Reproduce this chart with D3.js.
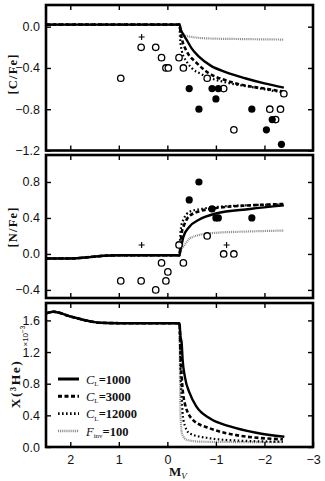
<!DOCTYPE html>
<html>
<head>
<meta charset="utf-8">
<script src="https://cdn.jsdelivr.net/npm/d3@7"></script>
<style>
  body { margin: 0; background: #fff; }
  svg { display: block; }
  .tick text { font-family: "Liberation Sans", Arial, sans-serif; font-size: 12.5px; fill: #111; }
  .serif { font-family: "Liberation Serif", "Times New Roman", serif; font-weight: bold; fill: #111; }
</style>
</head>
<body>
<svg id="chart"></svg>
<script>
// --------------------
// Data (M_V, value)
// --------------------
const xTicks = [2, 1, 0, -1, -2, -3];

// [C/Fe] model curves
const cfeSolid = [[2.5,0.02],[-0.25,0.02],[-0.28,-0.03],[-0.32,-0.07],[-0.4,-0.13],[-0.5,-0.21],[-0.65,-0.29],[-0.9,-0.38],[-1.2,-0.44],[-1.6,-0.5],[-2.0,-0.55],[-2.4,-0.59]];
const cfeDash = [[2.5,0.02],[-0.25,0.02],[-0.27,-0.05],[-0.3,-0.12],[-0.4,-0.24],[-0.6,-0.35],[-0.85,-0.45],[-1.2,-0.52],[-1.6,-0.57],[-2.0,-0.6],[-2.4,-0.63]];
const cfeDot = [[2.5,0.02],[-0.25,0.02],[-0.26,-0.1],[-0.3,-0.24],[-0.4,-0.34],[-0.5,-0.4],[-0.7,-0.46],[-0.9,-0.5],[-1.3,-0.55],[-1.8,-0.59],[-2.4,-0.64]];
const cfeInv = [[2.5,0.02],[-0.25,0.02],[-0.28,-0.04],[-0.35,-0.08],[-0.5,-0.1],[-0.9,-0.115],[-1.5,-0.12],[-2.4,-0.125]];
// [C/Fe] observations
const cfeOpen = [[0.96,-0.5],[0.54,-0.2],[0.24,-0.2],[0.12,-0.3],[0.03,-0.4],[-0.02,-0.4],[-0.24,-0.3],[-0.33,-0.4],[-0.82,-0.5],[-1.16,-0.6],[-1.37,-1.0],[-2.11,-0.8],[-2.33,-0.8],[-2.23,-0.9],[-2.4,-0.65]];
const cfeFilled = [[-0.45,-0.6],[-0.65,-0.8],[-0.92,-0.6],[-1.05,-0.6],[-1.0,-0.7],[-1.74,-0.8],[-2.04,-1.0],[-2.16,-0.9],[-2.35,-1.14]];
const cfePlus = [[0.53,-0.1]];

// [N/Fe] model curves
const nfeSolid = [[2.5,-0.05],[2.0,-0.05],[1.6,-0.035],[1.3,-0.02],[1.0,-0.015],[-0.25,-0.015],[-0.27,0.05],[-0.3,0.12],[-0.33,0.19],[-0.45,0.3],[-0.65,0.38],[-1.0,0.45],[-1.7,0.5],[-2.4,0.54]];
const nfeDash = [[2.5,-0.05],[2.0,-0.05],[1.6,-0.035],[1.3,-0.02],[1.0,-0.015],[-0.25,-0.015],[-0.27,0.1],[-0.3,0.25],[-0.33,0.3],[-0.45,0.42],[-0.7,0.48],[-1.0,0.51],[-1.7,0.54],[-2.4,0.555]];
const nfeDot = [[2.5,-0.05],[2.0,-0.05],[1.6,-0.035],[1.3,-0.02],[1.0,-0.015],[-0.25,-0.015],[-0.26,0.15],[-0.29,0.32],[-0.33,0.38],[-0.46,0.47],[-0.7,0.5],[-1.2,0.53],[-2.4,0.55]];
const nfeInv = [[2.5,-0.05],[2.0,-0.05],[1.6,-0.035],[1.3,-0.02],[1.0,-0.015],[-0.25,-0.015],[-0.27,0.03],[-0.33,0.08],[-0.46,0.17],[-0.65,0.21],[-1.0,0.235],[-1.7,0.25],[-2.4,0.26]];
// [N/Fe] observations
const nfeOpen = [[0.96,-0.3],[0.54,-0.3],[0.24,-0.4],[0.12,-0.1],[0.03,-0.3],[-0.01,-0.2],[-0.24,0.1],[-0.33,-0.1],[-0.82,0.2],[-1.16,0.0],[-1.37,0.0]];
const nfeFilled = [[-0.45,0.6],[-0.65,0.8],[-0.92,0.5],[-1.0,0.4],[-1.05,0.4],[-1.74,0.4]];
const nfePlus = [[0.53,0.1],[-1.22,0.1]];

// X(3He) model curves (x 10^-3)
const heSolid = [[2.5,1.69],[2.35,1.71],[2.0,1.65],[1.6,1.59],[1.4,1.57],[1.0,1.565],[-0.25,1.565],[-0.27,1.4],[-0.295,1.31],[-0.315,1.1],[-0.36,0.89],[-0.46,0.68],[-0.6,0.51],[-0.88,0.36],[-1.29,0.26],[-1.83,0.18],[-2.41,0.13]];
const heDash = [[2.5,1.69],[2.35,1.71],[2.0,1.65],[1.6,1.59],[1.4,1.57],[1.0,1.565],[-0.25,1.565],[-0.27,1.2],[-0.295,0.89],[-0.36,0.55],[-0.53,0.34],[-0.88,0.235],[-1.42,0.15],[-2.38,0.097]];
const heDot = [[2.5,1.69],[2.35,1.71],[2.0,1.65],[1.6,1.59],[1.4,1.57],[1.0,1.565],[-0.25,1.565],[-0.27,1.0],[-0.295,0.63],[-0.33,0.34],[-0.46,0.17],[-0.88,0.11],[-1.5,0.08],[-2.38,0.067]];
const heInv = [[2.5,1.69],[2.35,1.71],[2.0,1.65],[1.6,1.59],[1.4,1.57],[1.0,1.565],[-0.25,1.565],[-0.26,0.9],[-0.27,0.42],[-0.3,0.17],[-0.4,0.09],[-0.7,0.067],[-2.38,0.06]];

const legendLabels = [["C", "L", "=1000"], ["C", "L", "=3000"], ["C", "L", "=12000"], ["F", "inv", "=100"]];

// --------------------
// Basic setup
// --------------------
const width = 325;
const height = 481;
const left = 46, right = 313;

const svg = d3.select("#chart")
  .attr("width", width)
  .attr("height", height);

const x = d3.scaleLinear().domain([2.5, -3]).range([left, right]);

// line styles: solid, dashed, dotted, grey fine dotted (F_inv)
const styles = [
  { stroke: "#000", width: 2.4, dash: null },
  { stroke: "#000", width: 2.6, dash: "4,2.5" },
  { stroke: "#000", width: 2.2, dash: "1.6,2.4" },
  { stroke: "#8a8a8a", width: 2.2, dash: "1,0.9" }
];

const panels = [
  { top: 5, bottom: 150.5, domain: [-1.2, 0.21], ticks: [0, -0.4, -0.8, -1.2],
    curves: [cfeSolid, cfeDash, cfeDot, cfeInv], open: cfeOpen, filled: cfeFilled, plus: cfePlus },
  { top: 155, bottom: 298, domain: [-0.49, 1.1], ticks: [-0.4, 0, 0.4, 0.8],
    curves: [nfeSolid, nfeDash, nfeDot, nfeInv], open: nfeOpen, filled: nfeFilled, plus: nfePlus },
  { top: 303, bottom: 447, domain: [0, 1.82], ticks: [0, 0.4, 0.8, 1.2, 1.6],
    curves: [heSolid, heDash, heDot, heInv], open: [], filled: [], plus: [] }
];

panels.forEach((p, i) => {
  const y = d3.scaleLinear().domain(p.domain).range([p.bottom, p.top]);
  const g = svg.append("g");

  const clipId = "clip" + i;
  svg.append("clipPath").attr("id", clipId)
    .append("rect").attr("x", left).attr("y", p.top)
    .attr("width", right - left).attr("height", p.bottom - p.top);

  const line = d3.line()
    .x(d => x(d[0]))
    .y(d => y(d[1]))
    .curve(d3.curveMonotoneX);

  // curves, drawn back to front so solid is on top
  const plot = g.append("g").attr("clip-path", `url(#${clipId})`);
  [3, 2, 1, 0].forEach(k => {
    plot.append("path")
      .attr("d", line(p.curves[k]))
      .attr("fill", "none")
      .attr("stroke", styles[k].stroke)
      .attr("stroke-width", styles[k].width)
      .attr("stroke-dasharray", styles[k].dash);
  });

  plot.selectAll(".open")
    .data(p.open)
    .join("circle")
      .attr("cx", d => x(d[0]))
      .attr("cy", d => y(d[1]))
      .attr("r", 3.2)
      .attr("fill", "#fff")
      .attr("stroke", "#000")
      .attr("stroke-width", 1.3);

  plot.selectAll(".filled")
    .data(p.filled)
    .join("circle")
      .attr("cx", d => x(d[0]))
      .attr("cy", d => y(d[1]))
      .attr("r", 3.6)
      .attr("fill", "#000");

  plot.selectAll(".plus")
    .data(p.plus)
    .join("path")
      .attr("d", d => `M${x(d[0]) - 3},${y(d[1])}h6M${x(d[0])},${y(d[1]) - 3}v6`)
      .attr("stroke", "#000")
      .attr("stroke-width", 1.1);

  // axes with inward ticks
  g.append("g")
    .attr("transform", `translate(${left},0)`)
    .call(d3.axisLeft(y).tickValues(p.ticks).tickSize(-5).tickPadding(6).tickFormat(d3.format(".1f")))
    .call(a => a.select(".domain").remove());
  g.append("g")
    .attr("transform", `translate(${right},0)`)
    .call(d3.axisRight(y).tickValues(p.ticks).tickSize(-5).tickFormat(""))
    .call(a => a.select(".domain").remove());
  g.append("g")
    .attr("transform", `translate(0,${p.top})`)
    .call(d3.axisTop(x).tickValues(xTicks.slice(0, 5)).tickSize(-5).tickFormat(""))
    .call(a => a.select(".domain").remove());
  const bottomAxis = d3.axisBottom(x).tickValues(xTicks.slice(0, 5)).tickSize(-5).tickPadding(8);
  if (i < 2) bottomAxis.tickFormat("");
  else bottomAxis.tickValues(xTicks).tickFormat(d3.format("d"));
  g.append("g")
    .attr("transform", `translate(0,${p.bottom})`)
    .call(bottomAxis)
    .call(a => a.select(".domain").remove());

  g.selectAll(".tick line").attr("stroke", "#000").attr("stroke-width", 1.4);
  g.selectAll(".tick text").attr("fill", "#111");

  // frame
  g.append("rect")
    .attr("x", left).attr("y", p.top)
    .attr("width", right - left).attr("height", p.bottom - p.top)
    .attr("fill", "none")
    .attr("stroke", "#000")
    .attr("stroke-width", 2.6);
});

// --------------------
// Axis titles
// --------------------
function rotLabel(txt, cx, cy, size, spacing) {
  return svg.append("text")
    .attr("class", "serif")
    .attr("transform", `translate(${cx},${cy}) rotate(-90)`)
    .attr("text-anchor", "middle")
    .attr("dominant-baseline", "central")
    .attr("font-size", size)
    .attr("letter-spacing", spacing)
    .text(txt);
}
rotLabel("[C/Fe]", 13, 74, 12.5, 1.2);
rotLabel("[N/Fe]", 13, 227, 12.5, 1.2);
rotLabel("X(³He)", 15, 384, 13.5, 1.5);

const mult = svg.append("text")
  .attr("transform", "translate(25,336) rotate(-90)")
  .attr("text-anchor", "middle")
  .attr("dominant-baseline", "central")
  .attr("font-family", "Liberation Sans, Arial, sans-serif")
  .attr("font-size", 8)
  .attr("fill", "#111");
mult.append("tspan").text("×10");
mult.append("tspan").attr("dy", -3.5).attr("font-size", 6.5).text("−3");

const mv = svg.append("text")
  .attr("x", 169).attr("y", 476)
  .attr("class", "serif")
  .attr("font-size", 13);
mv.append("tspan").text("M");
mv.append("tspan").attr("dy", 2.5).attr("font-size", 9).attr("font-style", "italic").attr("font-weight", "normal").text("V");

// --------------------
// Legend
// --------------------
const legendY = d3.scalePoint().domain(d3.range(4)).range([379, 431]);
legendLabels.forEach((lab, k) => {
  const yy = legendY(k);
  svg.append("line")
    .attr("x1", 58).attr("x2", 79).attr("y1", yy).attr("y2", yy)
    .attr("stroke", styles[k].stroke)
    .attr("stroke-width", k === 0 ? 3 : styles[k].width + 0.4)
    .attr("stroke-dasharray", styles[k].dash);
  const t = svg.append("text")
    .attr("class", "serif")
    .attr("x", 86).attr("y", yy + 4.5)
    .attr("font-size", 12.5);
  t.append("tspan").attr("font-style", "italic").attr("font-weight", "normal").text(lab[0]);
  t.append("tspan").attr("dy", 2.5).attr("font-size", 7).attr("font-weight", "normal").text(lab[1]);
  t.append("tspan").attr("dy", -2.5).text(lab[2]);
});
</script>
</body>
</html>
